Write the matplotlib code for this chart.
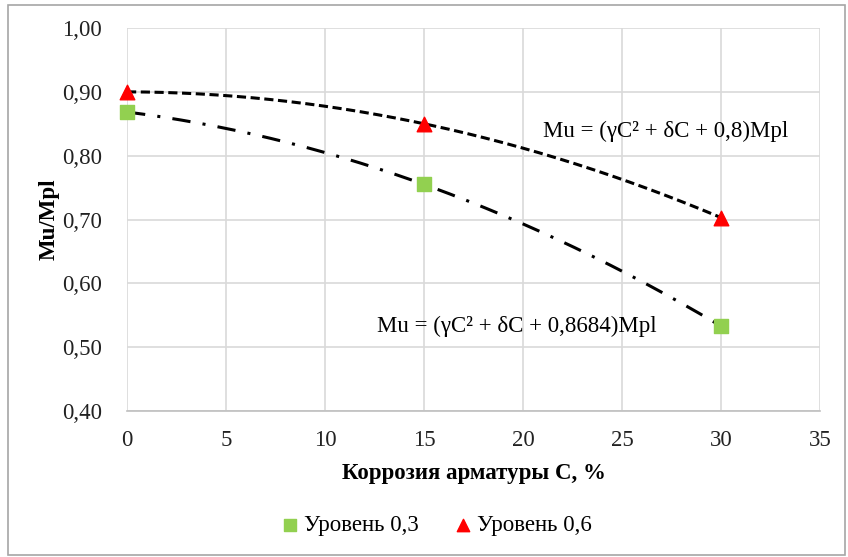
import numpy as np
import matplotlib.pyplot as plt
from matplotlib.patches import Rectangle

plt.rcParams['font.family'] = ['Liberation Serif', 'DejaVu Serif']

# данные
corrosion = [0, 15, 30]
level_03 = [0.8684, 0.755, 0.533]
level_06 = [0.90, 0.85, 0.703]
labels = ['Уровень 0,3', 'Уровень 0,6']
eq_03 = 'Mu = (γC² + δC + 0,8684)Mpl'
eq_06 = 'Mu = (γC² + δC + 0,8)Mpl'

fig = plt.figure(figsize=(8.48, 5.57), dpi=100)
ax = fig.add_axes([0.1498, 0.2621, 0.8172, 0.6876])

# полиномиальные линии тренда (2-я степень)
xs = np.linspace(0, 30, 200)
p03 = np.polyfit(corrosion, level_03, 2)
p06 = np.polyfit(corrosion, level_06, 2)
ax.plot(xs, np.polyval(p06, xs), color='black', lw=2.2, ls=(0, (3, 1.5)), zorder=3)
ax.plot(xs, np.polyval(p03, xs), color='black', lw=2.2, ls=(0, (6, 4, 1, 4)), zorder=3)

ax.scatter(corrosion, level_03, marker='s', s=100, color='#92d050', label=labels[0],
           zorder=4, clip_on=False)
ax.scatter(corrosion, level_06, marker='^', s=110, color='#ff0000', label=labels[1],
           zorder=4, clip_on=False)

ax.set_xlim(0, 35)
ax.set_ylim(0.4, 1.0)
ax.set_xticks(range(0, 36, 5))
ax.set_yticks(np.arange(0.4, 1.01, 0.1))
ax.set_yticklabels([f'{v:.2f}'.replace('.', ',') for v in np.arange(0.4, 1.01, 0.1)])
ax.tick_params(length=0, labelsize=16.5, colors='#222222')
ax.tick_params(axis='y', pad=18)
ax.tick_params(axis='x', pad=14)
ax.grid(True, color='#d9d9d9', lw=1.2)
ax.set_axisbelow(True)
for s in ['top', 'right', 'left']:
    ax.spines[s].set_visible(False)
ax.spines['bottom'].set_color('#bfbfbf')
ax.spines['bottom'].set_linewidth(1.2)

ax.set_xlabel('Коррозия арматуры С, %', fontsize=16.5, fontweight='bold', labelpad=8)
ax.set_ylabel('Mu/Mpl', fontsize=16.5, fontweight='bold', labelpad=2)

ax.text(21.0, 0.838, eq_06, fontsize=16.5, va='center', ha='left')
ax.text(12.6, 0.532, eq_03, fontsize=16.5, va='center', ha='left')

fig.legend(loc='lower center', bbox_to_anchor=(0.515, 0.0), ncol=2, frameon=False,
           fontsize=16.5, handlelength=0.7, handletextpad=0.25, columnspacing=1.6,
           markerscale=0.85)

fig.patches.append(Rectangle((0.009, 0.003), 0.988, 0.988, transform=fig.transFigure,
                             fill=False, edgecolor='#a6a6a6', lw=1.2))

fig.savefig('out.png', dpi=100)
